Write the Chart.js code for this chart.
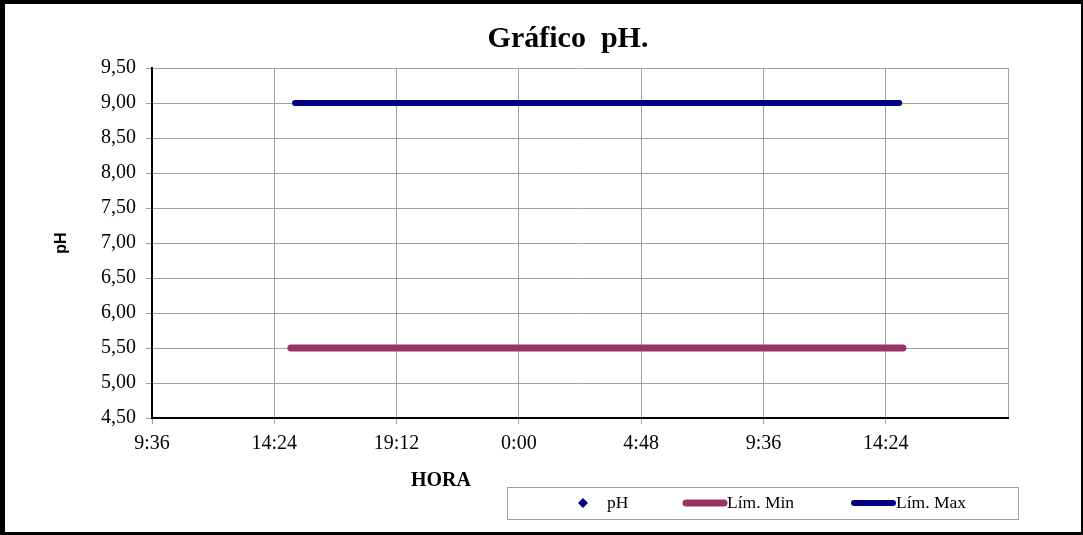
<!DOCTYPE html>
<html>
<head>
<meta charset="utf-8">
<script src="https://cdn.jsdelivr.net/npm/chart.js@4/dist/chart.umd.min.js"></script>
<style>
  body { margin: 0; background: #fff; }
</style>
</head>
<body>
<canvas id="phChart" width="1083" height="535"></canvas>
<script>
// x values are in days (0.4 = 9:36 of day 1, 1.0 = 0:00 of day 2)
var phX = [];
var phY = [];
var limMinX = [0.627, 1.628];
var limMinY = [5.5, 5.5];
var limMaxX = [0.634, 1.622];
var limMaxY = [9.0, 9.0];
var seriesNames = ['pH', 'Lím. Min', 'Lím. Max'];
var seriesColors = ['#000080', '#993366', '#000080'];

function toPoints(xs, ys) {
  return xs.map(function(x, i) { return { x: x, y: ys[i] }; });
}

function formatHour(v) {
  var mins = Math.round(v * 24 * 60) % 1440;
  var h = Math.floor(mins / 60);
  var m = mins % 60;
  return h + ':' + (m < 10 ? '0' + m : m);
}

var serif = '"Liberation Serif", "Times New Roman", serif';

var framePlugin = {
  id: 'frame',
  beforeDraw: function(chart) {
    var ctx = chart.ctx;
    ctx.save();
    ctx.fillStyle = '#fff';
    ctx.fillRect(0, 0, chart.width, chart.height);
    ctx.restore();
  },
  afterDraw: function(chart) {
    var ctx = chart.ctx;
    ctx.save();
    // title
    ctx.fillStyle = '#000';
    ctx.textAlign = 'center';
    ctx.textBaseline = 'middle';
    ctx.font = 'bold 30px ' + serif;
    ctx.fillText('Gráfico  pH.', 568, 39);
    // x axis title
    ctx.font = 'bold 20px ' + serif;
    ctx.fillText('HORA', 441, 481);
    // y axis title
    ctx.save();
    ctx.translate(62, 243);
    ctx.rotate(-Math.PI / 2);
    ctx.font = 'bold 16px "Liberation Sans", Arial, sans-serif';
    ctx.fillText('pH', 0, 0);
    ctx.restore();

    // legend
    ctx.strokeStyle = '#a0a0a0';
    ctx.lineWidth = 1;
    ctx.strokeRect(507.5, 487.5, 511, 32);
    var ly = 503;
    ctx.fillStyle = seriesColors[0];
    ctx.beginPath();
    ctx.moveTo(583, ly - 5);
    ctx.lineTo(588, ly);
    ctx.lineTo(583, ly + 5);
    ctx.lineTo(578, ly);
    ctx.closePath();
    ctx.fill();
    ctx.lineCap = 'round';
    ctx.strokeStyle = seriesColors[1];
    ctx.lineWidth = 7;
    ctx.beginPath(); ctx.moveTo(686, ly); ctx.lineTo(724, ly); ctx.stroke();
    ctx.strokeStyle = seriesColors[2];
    ctx.lineWidth = 6;
    ctx.beginPath(); ctx.moveTo(854, ly); ctx.lineTo(893, ly); ctx.stroke();
    ctx.fillStyle = '#000';
    ctx.textAlign = 'left';
    ctx.font = '17.5px ' + serif;
    ctx.fillText(seriesNames[0], 607, ly);
    ctx.fillText(seriesNames[1], 727, ly);
    ctx.fillText(seriesNames[2], 896, ly);

    // outer black frame
    ctx.fillStyle = '#000';
    ctx.fillRect(0, 0, chart.width, 4);
    ctx.fillRect(0, 0, 5, chart.height);
    ctx.fillRect(0, chart.height - 3, chart.width, 3);
    ctx.fillRect(chart.width - 2, 0, 2, chart.height);
    ctx.restore();
  }
};

var ctx = document.getElementById('phChart').getContext('2d');
new Chart(ctx, {
  type: 'scatter',
  data: {
    datasets: [{
      label: seriesNames[0],
      data: toPoints(phX, phY),
      backgroundColor: seriesColors[0],
      borderColor: seriesColors[0],
      pointStyle: 'rectRot',
      pointRadius: 5,
      showLine: false
    }, {
      label: seriesNames[1],
      data: toPoints(limMinX, limMinY),
      borderColor: seriesColors[1],
      backgroundColor: seriesColors[1],
      borderWidth: 7,
      borderCapStyle: 'round',
      pointRadius: 0,
      showLine: true
    }, {
      label: seriesNames[2],
      data: toPoints(limMaxX, limMaxY),
      borderColor: seriesColors[2],
      backgroundColor: seriesColors[2],
      borderWidth: 6,
      borderCapStyle: 'round',
      pointRadius: 0,
      showLine: true
    }]
  },
  options: {
    responsive: false,
    animation: false,
    layout: { padding: { left: 0, top: 68, right: 75, bottom: 0 } },
    plugins: {
      legend: { display: false },
      title: { display: false },
      tooltip: { enabled: false }
    },
    scales: {
      x: {
        type: 'linear',
        min: 0.4,
        max: 1.8,
        afterFit: function(scale) { scale.height = 117; },
        ticks: {
          stepSize: 0.2,
          padding: 8,
          color: '#000',
          maxRotation: 0,
          autoSkip: false,
          font: { family: serif, size: 20 },
          callback: function(v) {
            if (Math.abs(v - 1.8) < 1e-6) return '';
            return formatHour(v);
          }
        },
        grid: {
          color: '#a0a0a0',
          tickColor: function(c) {
            return c.tick && Math.abs(c.tick.value - 1.8) < 1e-6 ? 'rgba(0,0,0,0)' : '#a0a0a0';
          },
          tickLength: 6,
          lineWidth: 1
        },
        border: { color: '#000', width: 2 }
      },
      y: {
        min: 4.5,
        max: 9.5,
        afterFit: function(scale) { scale.width = 152; },
        ticks: {
          stepSize: 0.5,
          padding: 10,
          color: '#000',
          font: { family: serif, size: 20 },
          callback: function(v) { return v.toFixed(2).replace('.', ','); }
        },
        grid: { color: '#a0a0a0', tickColor: '#a0a0a0', tickLength: 6, lineWidth: 1 },
        border: { color: '#000', width: 2 }
      }
    }
  },
  plugins: [framePlugin]
});
</script>
</body>
</html>
